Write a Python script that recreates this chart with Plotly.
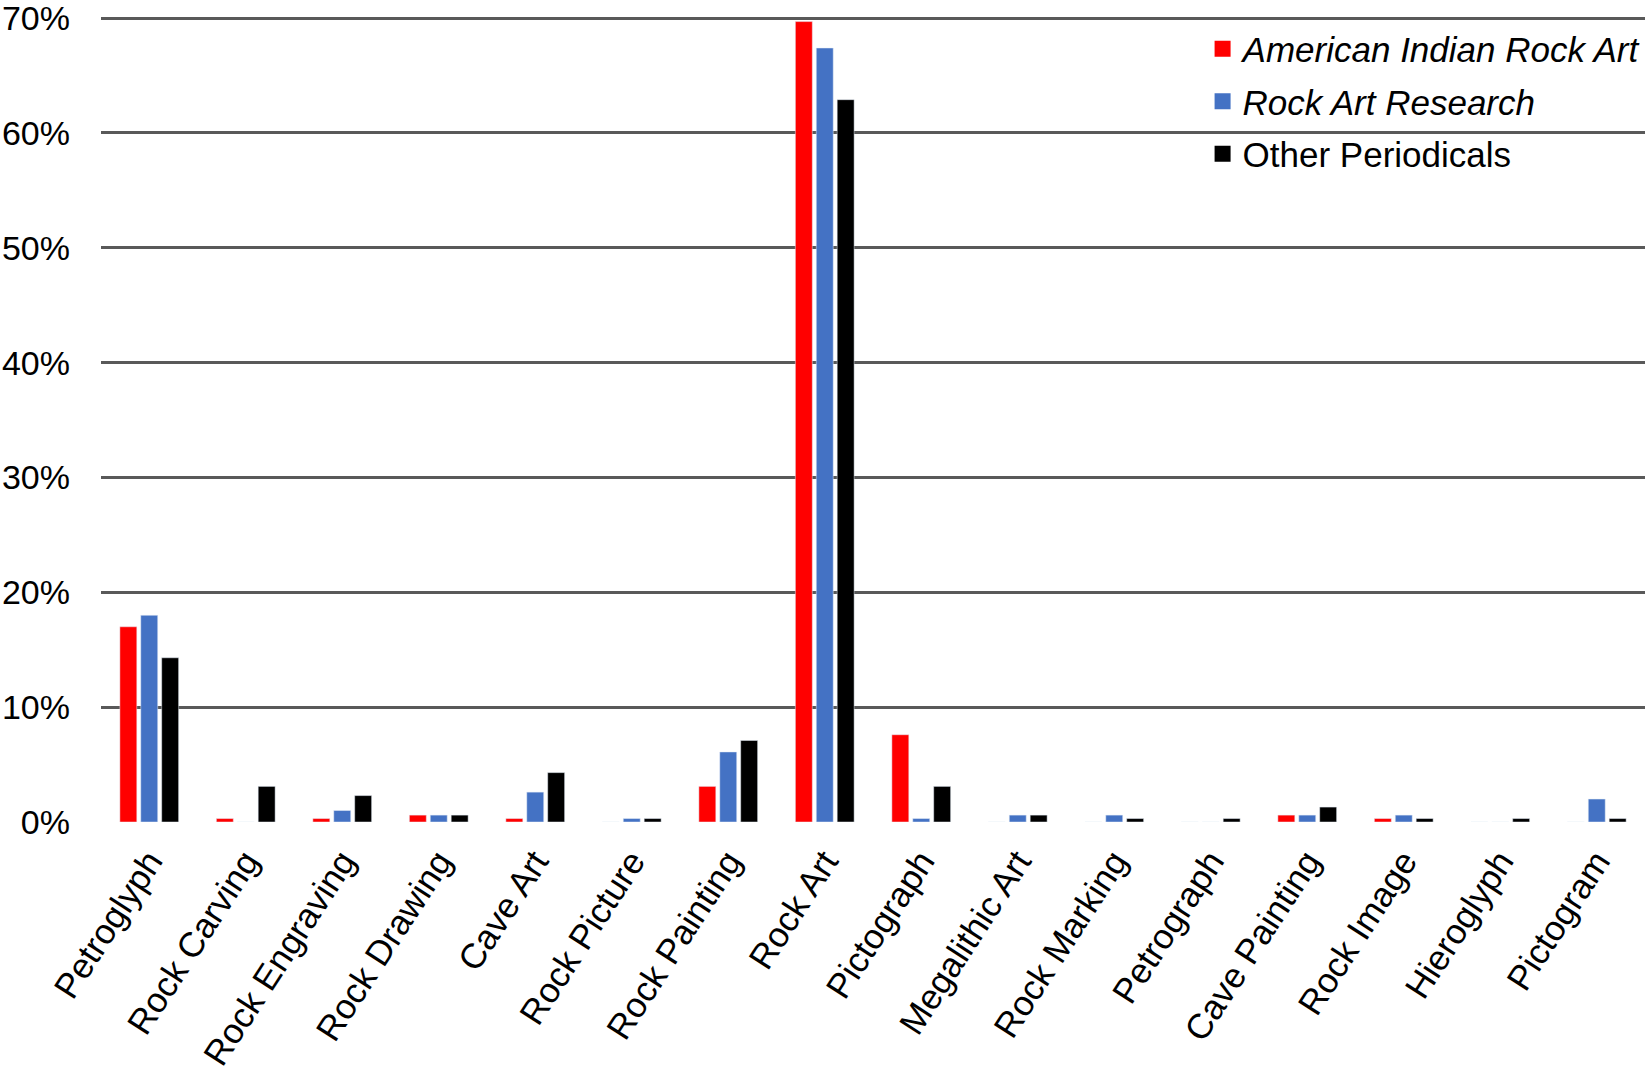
import plotly.graph_objects as go

categories = ["Petroglyph", "Rock Carving", "Rock Engraving", "Rock Drawing", "Cave Art",
              "Rock Picture", "Rock Painting", "Rock Art", "Pictograph", "Megalithic Art",
              "Rock Marking", "Petrograph", "Cave Painting", "Rock Image", "Hieroglyph", "Pictogram"]

american_indian = [17.0, 0.3, 0.3, 0.6, 0.3, 0.0, 3.1, 69.7, 7.6, 0.0, 0.0, 0.0, 0.6, 0.3, 0.0, 0.0]
rock_art_research = [18.0, 0.0, 1.0, 0.6, 2.6, 0.3, 6.1, 67.4, 0.3, 0.6, 0.6, 0.0, 0.6, 0.6, 0.0, 2.0]
other_periodicals = [14.3, 3.1, 2.3, 0.6, 4.3, 0.3, 7.1, 62.9, 3.1, 0.6, 0.3, 0.3, 1.3, 0.3, 0.3, 0.3]

series_names = ["<i>American Indian Rock Art</i>", "<i>Rock Art Research</i>", "Other Periodicals"]
series_colors = ["#FF0000", "#4472C4", "#000000"]

FONT = "Liberation Sans, Arial, sans-serif"

fig = go.Figure()
for vals, name, col in zip([american_indian, rock_art_research, other_periodicals],
                           series_names, series_colors):
    fig.add_trace(go.Bar(x=categories, y=vals, name=name, marker=dict(color=col),
                         legendgroup=name, showlegend=False))
    # legend-only entry so the swatch is a bigger square like the original
    fig.add_trace(go.Scatter(x=[categories[0]], y=[None], mode="markers", name=name,
                             marker=dict(symbol="square", size=16, color=col),
                             legendgroup=name, showlegend=True))

fig.update_layout(
    width=1650, height=1071,
    margin=dict(l=101, r=4, t=17, b=249),
    plot_bgcolor="white", paper_bgcolor="white",
    barmode="group", bargap=0.35, bargroupgap=0.19,
    font=dict(family=FONT, size=35, color="black"),
    legend=dict(x=0.713, y=0.997, xanchor="left", yanchor="top",
                bgcolor="rgba(0,0,0,0)", font=dict(size=35),
                itemwidth=30, tracegroupgap=4),
    showlegend=True,
)
fig.update_yaxes(range=[0, 70.1], dtick=10, ticksuffix="%", showgrid=True,
                 gridcolor="#595959", gridwidth=2.5, zeroline=False, showline=False,
                 ticks="", tickfont=dict(size=34), ticklabelstandoff=30, automargin=False,
                 ticklabeloverflow="allow")
fig.update_xaxes(range=[-0.5, len(categories) - 0.5], tickangle=-57, showline=False,
                 showgrid=False, ticks="", tickfont=dict(size=35), ticklabelstandoff=11,
                 automargin=False)

# page body has an 8px default margin; drop it so the figure sits at 0,0
fig.write_html("out.html", config={"displayModeBar": False},
               post_script="document.body.style.margin='0px';")
